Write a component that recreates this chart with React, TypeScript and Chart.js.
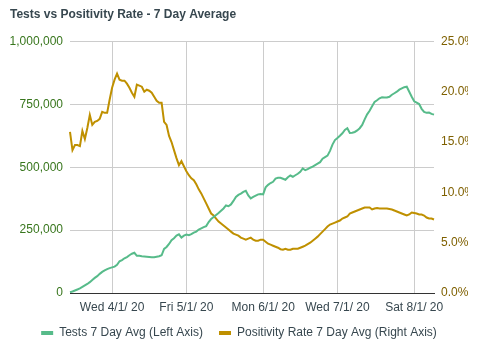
import React, { useEffect, useRef } from "react";
import { Chart, registerables } from "chart.js";

Chart.register(...registerables);

const startDate = [2020, 3, 15]; // Mar 15, 2020
const dayCount = 148;

const tickDates = ["4/1/20", "5/1/20", "6/1/20", "7/1/20", "8/1/20"];
const tickLabels = ["Wed 4/1/ 20", "Fri 5/1/ 20", "Mon 6/1/ 20", "Wed 7/1/ 20", "Sat 8/1/ 20"];

const testsK = [
  3, 6, 10, 14, 18, 24, 30, 36, 43, 52,
  60, 67, 76, 84, 90, 95, 99, 102, 105, 112,
  126, 131, 138, 143, 150, 156, 160, 148, 148, 146,
  145, 144, 143, 142, 142, 144, 146, 150, 175, 183,
  195, 210, 218, 228, 233, 220, 228, 232, 230, 234,
  240, 244, 252, 257, 262, 266, 282, 294, 302, 310,
  318, 327, 336, 348, 345, 352, 366, 382, 390, 395,
  402, 406, 388, 376, 382, 387, 392, 393, 392, 420,
  430, 437, 442, 455, 458, 458, 454, 450, 460, 467,
  462, 468, 474, 482, 495, 488, 492, 498, 502, 508,
  514, 520, 534, 540, 546, 565, 590, 608, 616, 625,
  635, 648, 655, 636, 637, 640, 646, 655, 668, 690,
  710, 724, 742, 759, 766, 774, 778, 777, 777, 780,
  788, 794, 800, 808, 813, 818, 820, 800, 780, 762,
  757, 751, 732, 720, 716, 717, 712, 709,
];

const positivity = [
  16.0, 14.2, 14.7, 14.7, 14.6, 16.1, 15.3, 16.4, 17.7, 16.7,
  17.0, 17.1, 17.3, 18.0, 17.9, 17.9, 19.2, 20.4, 21.2, 21.8,
  21.2, 21.1, 21.1, 20.8, 20.4, 19.9, 19.5, 20.7, 20.6, 20.5,
  20.0, 20.2, 20.1, 19.9, 19.5, 19.1, 18.9, 18.9, 17.0, 16.7,
  15.6, 15.0, 14.2, 13.4, 12.7, 13.1, 12.6, 12.1, 11.7, 11.4,
  11.2, 10.8, 10.3, 9.9, 9.4, 8.9, 8.4, 7.9, 7.7, 7.4,
  7.1, 6.9, 6.7, 6.5, 6.3, 6.1, 5.9, 5.8, 5.7, 5.5,
  5.4, 5.3, 5.4, 5.5, 5.3, 5.2, 5.2, 5.3, 5.3, 5.1,
  4.9, 4.8, 4.7, 4.6, 4.5, 4.35, 4.3, 4.4, 4.3, 4.3,
  4.4, 4.4, 4.4, 4.5, 4.6, 4.7, 4.85, 5.0, 5.2, 5.4,
  5.6, 5.85, 6.1, 6.35, 6.6, 6.8, 6.9, 7.0, 7.1, 7.2,
  7.4, 7.5, 7.6, 7.9, 8.0, 8.1, 8.2, 8.3, 8.4, 8.5,
  8.5, 8.5, 8.3, 8.4, 8.45, 8.4, 8.4, 8.4, 8.4, 8.35,
  8.3, 8.2, 8.1, 8.0, 7.9, 7.8, 7.7, 7.8, 8.0, 7.95,
  7.9, 7.8, 7.8, 7.7, 7.5, 7.4, 7.4, 7.3,
];

const GREEN = "#57bb8a";
const GOLD = "#bf9000";
const TEXT = "#37474f";

function buildDates(): string[] {
  const out: string[] = [];
  const d = new Date(startDate[0], startDate[1] - 1, startDate[2]);
  for (let i = 0; i < dayCount; i++) {
    out.push(`${d.getMonth() + 1}/${d.getDate()}/${String(d.getFullYear()).slice(2)}`);
    d.setDate(d.getDate() + 1);
  }
  return out;
}

export default function App() {
  const ref = useRef<HTMLCanvasElement | null>(null);

  useEffect(() => {
    if (!ref.current) return;
    const labels = buildDates();
    Chart.defaults.font.family = '"Liberation Sans", Arial, sans-serif';
    const chart = new Chart(ref.current, {
      type: "line",
      data: {
        labels,
        datasets: [
          {
            label: "Tests 7 Day Avg (Left Axis)",
            data: testsK.map((v) => v * 1000),
            borderColor: GREEN,
            backgroundColor: GREEN,
            borderWidth: 2,
            pointRadius: 0,
            tension: 0,
            yAxisID: "y",
          },
          {
            label: "Positivity Rate 7 Day Avg (Right Axis)",
            data: positivity,
            borderColor: GOLD,
            backgroundColor: GOLD,
            borderWidth: 2,
            pointRadius: 0,
            tension: 0,
            yAxisID: "y1",
          },
        ],
      },
      options: {
        animation: false,
        responsive: true,
        maintainAspectRatio: false,
        layout: { padding: { left: 10, right: 22, top: 0, bottom: 11 } },
        plugins: {
          title: {
            display: true,
            text: "Tests vs Positivity Rate - 7 Day Average",
            align: "start",
            color: TEXT,
            font: { size: 12, weight: "bold" },
            padding: { top: 7, bottom: 20 },
          },
          legend: {
            position: "bottom",
            labels: {
              color: TEXT,
              font: { size: 12 },
              boxWidth: 12,
              boxHeight: 4,
              padding: 16,
              generateLabels: (c: any) =>
                Chart.defaults.plugins.legend.labels.generateLabels(c).map((it: any) => ({
                  ...it,
                  lineWidth: 0,
                })),
            },
          },
          tooltip: { enabled: false },
        },
        scales: {
          x: {
            type: "category",
            offset: false,
            grid: { color: "#cccccc", drawTicks: false },
            border: { display: true, color: "#333333", width: 1 },
            afterFit: (s: any) => {
              s.height = 18;
            },
            ticks: {
              autoSkip: false,
              maxRotation: 0,
              minRotation: 0,
              padding: 7,
              color: TEXT,
              font: { size: 12 },
              callback: function (_v: any, i: number) {
                const k = tickDates.indexOf(labels[i]);
                return k >= 0 ? tickLabels[k] : null;
              },
            },
          },
          y: {
            position: "left",
            min: 0,
            max: 1000000,
            grid: { color: "#cccccc", drawTicks: false },
            border: { display: false },
            afterFit: (s: any) => {
              s.width = 60;
            },
            ticks: {
              stepSize: 250000,
              padding: 7,
              color: "#38761d",
              font: { size: 12 },
              callback: (v: any) => Number(v).toLocaleString("en-US"),
            },
          },
          y1: {
            position: "right",
            min: 0,
            max: 25,
            grid: { drawOnChartArea: false, drawTicks: false },
            border: { display: false },
            afterFit: (s: any) => {
              s.width = 34;
            },
            ticks: {
              stepSize: 5,
              padding: 7,
              color: "#7f6000",
              font: { size: 12 },
              callback: (v: any) => Number(v).toFixed(1) + "%",
            },
          },
        },
      },
    });
    return () => chart.destroy();
  }, []);

  return (
    <div style={{ position: "fixed", left: 0, top: 0, width: 490, height: 360, background: "#fff" }}>
      <canvas ref={ref} />
    </div>
  );
}
